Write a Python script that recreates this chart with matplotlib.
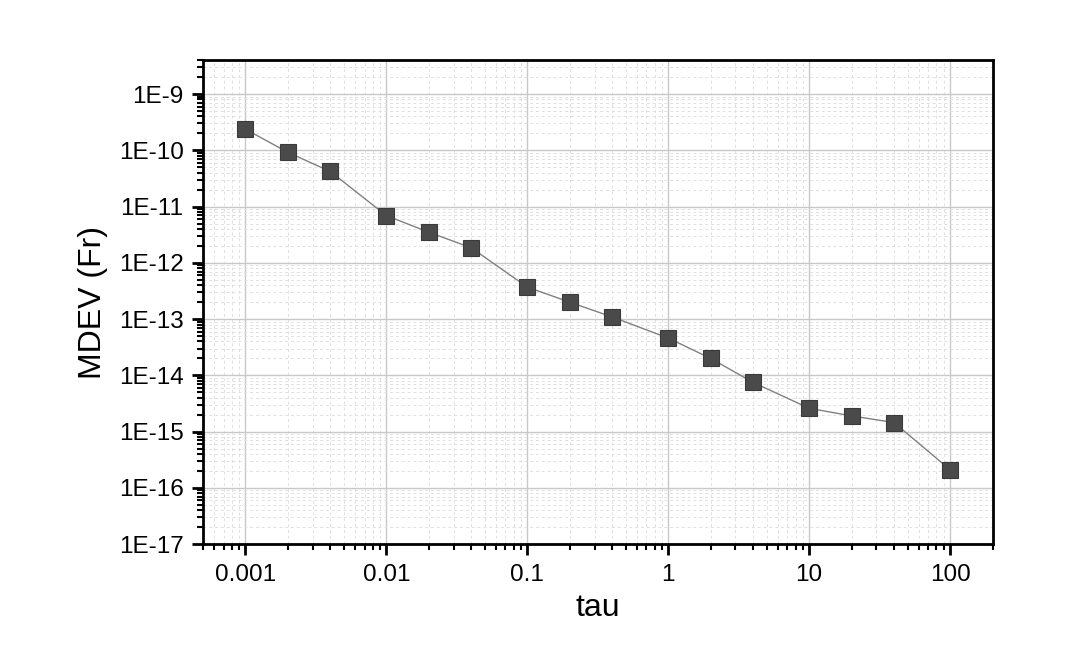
import matplotlib
matplotlib.use('Agg')
import matplotlib.pyplot as plt
from matplotlib.ticker import LogLocator, FixedLocator, FixedFormatter, NullFormatter

plt.rcParams['font.family'] = ['Liberation Sans', 'DejaVu Sans']

tau = [0.001, 0.002, 0.004, 0.01, 0.02, 0.04, 0.1, 0.2, 0.4,
       1, 2, 4, 10, 20, 40, 100]
mdev = [2.37e-10, 9.2e-11, 4.2e-11, 6.9e-12, 3.5e-12, 1.85e-12,
        3.7e-13, 2.0e-13, 1.09e-13, 4.6e-14, 2.0e-14, 7.5e-15,
        2.6e-15, 1.9e-15, 1.45e-15, 2.1e-16]

xticks = [0.001, 0.01, 0.1, 1, 10, 100]
xlabels = ['0.001', '0.01', '0.1', '1', '10', '100']
yticks = [1e-17, 1e-16, 1e-15, 1e-14, 1e-13, 1e-12, 1e-11, 1e-10, 1e-9]
ylabels = ['1E-17', '1E-16', '1E-15', '1E-14', '1E-13', '1E-12',
           '1E-11', '1E-10', '1E-9']

fig = plt.figure(figsize=(10.8, 6.47), dpi=100)
ax = fig.add_axes([0.188, 0.159, 0.731, 0.748])

ax.plot(tau, mdev, color='#808080', lw=1.0, marker='s', markersize=12,
        markerfacecolor='#4a4a4a', markeredgecolor='#3a3a3a', markeredgewidth=0.8,
        zorder=3)

ax.set_xscale('log')
ax.set_yscale('log')
ax.set_xlim(5e-4, 200)
ax.set_ylim(1e-17, 4e-9)

ax.xaxis.set_major_locator(FixedLocator(xticks))
ax.xaxis.set_major_formatter(FixedFormatter(xlabels))
ax.yaxis.set_major_locator(FixedLocator(yticks))
ax.yaxis.set_major_formatter(FixedFormatter(ylabels))
ax.xaxis.set_minor_locator(LogLocator(base=10, subs=range(2, 10), numticks=20))
ax.yaxis.set_minor_locator(LogLocator(base=10, subs=range(2, 10), numticks=20))
ax.xaxis.set_minor_formatter(NullFormatter())
ax.yaxis.set_minor_formatter(NullFormatter())

ax.grid(True, which='major', color='#c8c8c8', lw=1.0, ls='-', zorder=0)
ax.grid(True, which='minor', color='#e0e0e0', lw=0.7, ls=(0, (3, 3)), zorder=0)

ax.tick_params(which='major', direction='out', length=8, width=2, labelsize=17.5,
               top=False, right=False, pad=6)
ax.tick_params(which='minor', direction='out', length=4, width=1.5,
               top=False, right=False)

for s in ax.spines.values():
    s.set_linewidth(2)

ax.set_xlabel('tau', fontsize=23, labelpad=5)
ax.set_ylabel('MDEV (Fr)', fontsize=23, labelpad=8)

fig.savefig('out.png', dpi=100)
